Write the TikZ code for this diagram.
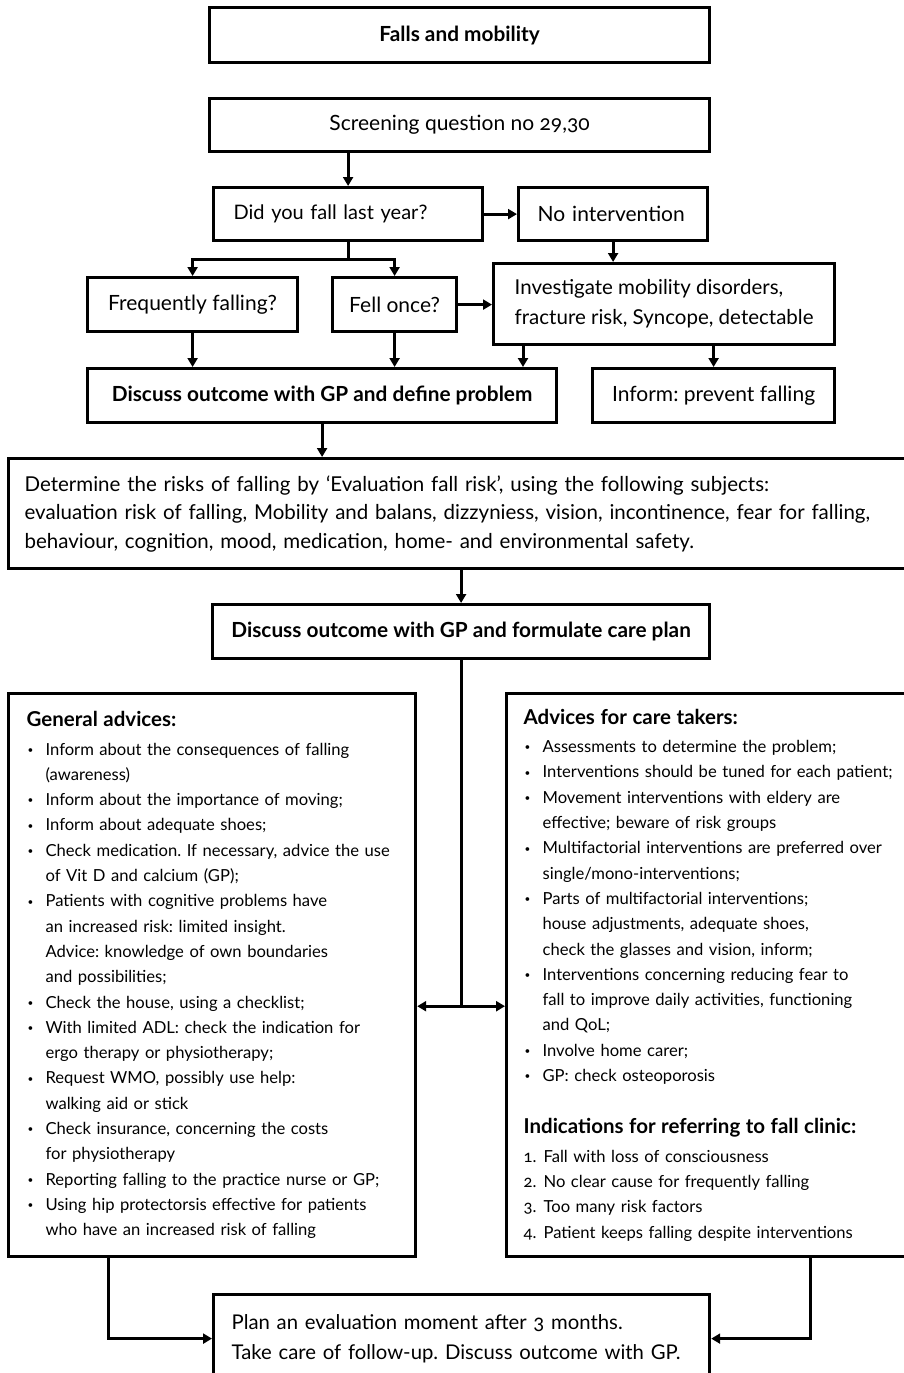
\documentclass[tikz,border=0pt]{standalone}
\usepackage{fontspec}
\setmainfont{Lato}[Numbers=OldStyle]
\usetikzlibrary{arrows.meta,positioning,calc}
\frenchspacing

\newcommand{\flowfont}{\fontsize{21}{30}\selectfont}
\newcommand{\boldflow}{\fontsize{20.8}{26}\selectfont\bfseries}
\newcommand{\listfont}{\fontsize{16.6}{25.3}\selectfont}
\newcommand{\listhead}{\fontsize{20.5}{25.3}\selectfont\bfseries}
\newcommand{\bulitem}{\hspace*{1pt}\makebox[18pt][l]{\raisebox{0.2ex}{\fontsize{10}{10}\selectfont\textbullet}}}
\newcommand{\bulcont}{\hspace*{19pt}}
\newcommand{\numitem}[1]{\makebox[20pt][l]{#1}}

\begin{document}
\begin{tikzpicture}[
  x=1pt, y=-1pt, >={Triangle[length=9pt,width=10pt]},
  box/.style={draw,line width=3.2pt,inner sep=0pt,anchor=north west,font=\flowfont},
  hbox/.style={box,font=\boldflow},
  lbox/.style={box,align=left,inner xsep=18pt},
  listbox/.style={lbox,font=\listfont},
  link/.style={->,line width=3pt},
]
\useasboundingbox (0,0) rectangle (904,1373);
\clip (0,0) rectangle (904,1373);

% screening part
\node[hbox,minimum width=500pt,minimum height=55pt] (title) at (208,6) {Falls and mobility};
\node[box,minimum width=500pt,minimum height=53pt] (screen) at (208,97) {Screening question no 29,30};
\node[lbox,text width=229pt,inner xsep=20pt,minimum height=53pt,font=\fontsize{20}{30}\selectfont] (fall) at (212,186) {Did you fall last year?};
\node[lbox,text width=151pt,inner xsep=19pt,minimum height=53pt] (noint) at (517,186) {No intervention};
\node[box,minimum width=210pt,minimum height=54pt] (freq) at (86,276) {Frequently falling?};
\node[box,minimum width=124pt,minimum height=54pt] (once) at (331,276) {Fell once?};
\node[box,align=left,minimum width=341pt,minimum height=81pt,font=\fontsize{20.5}{30}\selectfont] (invest) at (492,262)
  {Investigate mobility disorders,\\fracture risk, Syncope, detectable};
\node[hbox,minimum width=469pt,minimum height=54pt] (define) at (86,367) {Discuss outcome with GP and define problem};
\node[box,minimum width=242pt,minimum height=54pt] (inform) at (591,367) {Inform: prevent falling};

% risk evaluation
\node[lbox,text width=876pt,inner xsep=16pt,minimum height=110pt,font=\fontsize{20.5}{28.5}\selectfont] (determ) at (7,457)
  {Determine the risks of falling by ‘Evaluation fall risk’, using the following subjects:\\
   evaluation risk of falling, Mobility and balans, dizzyniess, vision, incontinence, fear for falling,\\
   behaviour, cognition, mood, medication, home- and environmental safety.};
\node[hbox,minimum width=497pt,minimum height=54pt] (formulate) at (211,603) {Discuss outcome with GP and formulate care plan};

% advices
\node[listbox,text width=371pt,minimum height=563pt] (general) at (7,692)
  {{\listhead General advices:}\\[3pt]
   \bulitem Inform about the consequences of falling\\
   \bulcont (awareness)\\
   \bulitem Inform about the importance of moving;\\
   \bulitem Inform about adequate shoes;\\
   \bulitem Check medication. If necessary, advice the use\\
   \bulcont of Vit D and calcium (GP);\\
   \bulitem Patients with cognitive problems have\\
   \bulcont an increased risk: limited insight.\\
   \bulcont Advice: knowledge of own boundaries\\
   \bulcont and possibilities;\\
   \bulitem Check the house, using a checklist;\\
   \bulitem With limited ADL: check the indication for\\
   \bulcont ergo therapy or physiotherapy;\\
   \bulitem Request WMO, possibly use help:\\
   \bulcont walking aid or stick\\
   \bulitem Check insurance, concerning the costs\\
   \bulcont for physiotherapy\\
   \bulitem Reporting falling to the practice nurse or GP;\\
   \bulitem Using hip protectorsis effective for patients\\
   \bulcont who have an increased risk of falling};
\node[listbox,text width=390pt,inner xsep=17pt,minimum height=563pt] (advice) at (505,692)
  {{\listhead Advices for care takers:}\\[3pt]
   \bulitem Assessments to determine the problem;\\
   \bulitem Interventions should be tuned for each patient;\\
   \bulitem Movement interventions with eldery are\\
   \bulcont effective; beware of risk groups\\
   \bulitem Multifactorial interventions are preferred over\\
   \bulcont single/mono-interventions;\\
   \bulitem Parts of multifactorial interventions;\\
   \bulcont house adjustments, adequate shoes,\\
   \bulcont check the glasses and vision, inform;\\
   \bulitem Interventions concerning reducing fear to\\
   \bulcont fall to improve daily activities, functioning\\
   \bulcont and QoL;\\
   \bulitem Involve home carer;\\
   \bulitem GP: check osteoporosis\\[27pt]
   {\listhead Indications for referring to fall clinic:}\\[3pt]
   \numitem{1.}Fall with loss of consciousness\\
   \numitem{2.}No clear cause for frequently falling\\
   \numitem{3.}Too many risk factors\\
   \numitem{4.}Patient keeps falling despite interventions};
\node[lbox,text width=460pt,minimum height=88pt,font=\fontsize{20.3}{30}\selectfont] (plan) at (212,1293)
  {Plan an evaluation moment after 3 months.\\Take care of follow-up. Discuss outcome with GP.};

% screening arrows
\draw[link] (fall.north |- screen.south) -- (fall.north);
\draw[link] (fall.east) -- (noint.west);
\draw[link] (noint.south) -- (noint.south |- invest.north);
\draw[link] (fall.south) -- ++(0,17) -| (freq.north);
\draw[link] (fall.south) -- ++(0,17) -| (once.north);
\draw[link] (once.east) -- (once.east -| invest.west);
\draw[link] (freq.south) -- (freq.south |- define.north);
\draw[link] (once.south) -- (once.south |- define.north);
\draw[link] ([xshift=31pt]invest.south west) -- ([xshift=31pt]invest.south west |- define.north);
\draw[link] (inform.north |- invest.south) -- (inform.north);
% down to the care plan
\draw[link] (define.south) -- (define.south |- determ.north);
\draw[link] (formulate.north |- determ.south) -- (formulate.north);
\draw[line width=3pt] (formulate.south) -- ++(0,346) coordinate (split);
\draw[link] (split) -- (split -| general.east);
\draw[link] (split) -- (split -| advice.west);
% follow-up
\draw[link] ([xshift=101pt]general.south west) |- (plan.west);
\draw[link] ([xshift=305pt]advice.south west) |- (plan.east);
\end{tikzpicture}
\end{document}
